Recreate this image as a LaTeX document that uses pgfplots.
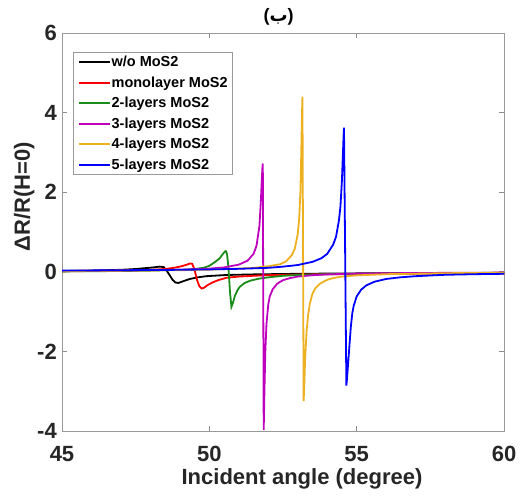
\documentclass[border=0pt]{standalone}
\usepackage{pgfplots}
\pgfplotsset{compat=1.18}
\usepackage{fontspec}
\setmainfont{Liberation Sans}
\newfontfamily\arabicfont[Script=Arabic]{DejaVu Sans}
\TeXXeTstate=1
\definecolor{mred}{rgb}{1,0,0}
\definecolor{mblue}{rgb}{0,0,1}
\definecolor{mgreen}{rgb}{0.10,0.55,0.10}
\definecolor{mmag}{rgb}{0.75,0.0,0.75}
\definecolor{myel}{rgb}{0.93,0.69,0.13}
\begin{document}
\begin{tikzpicture}
\begin{axis}[
  scale only axis, width=442pt, height=398pt,
  xmin=45, xmax=60, ymin=-4, ymax=6,
  xtick={45,50,55,60}, ytick={-4,-2,0,2,4,6},
  tick align=inside, major tick length=5pt,
  axis line style={black!40, line width=0.8pt},
  every tick/.style={black!45, line width=0.8pt},
  /pgf/number format/assume math mode=true,
  ticklabel style={font=\fontsize{22}{24}\selectfont\bfseries, text=black!85},
  yticklabel style={inner sep=0pt, anchor=east, xshift=-5pt},
  xticklabel style={inner sep=0pt, anchor=north, yshift=-15pt},
  xlabel={Incident angle (degree)},
  ylabel={ΔR/R(H=0)},
  label style={font=\fontsize{22}{24}\selectfont\bfseries, text=black!85, inner sep=0pt},
  xlabel style={at={(axis description cs:0.543,0)}, anchor=north, yshift=-37pt},
  ylabel style={at={(axis description cs:-0.062,0.588)}, anchor=south},
  title={\fontsize{18}{20}\selectfont\bfseries{(}{\arabicfont\bfseries\beginR ب\endR}{)}},
  title style={at={(axis description cs:0.49,1)}, anchor=south, yshift=2pt, inner sep=0pt},
  legend style={at={(rel axis cs:0.0256,0.953)}, anchor=north west, draw=black!40, line width=0.8pt,
    font=\fontsize{14.5}{16}\selectfont\bfseries, inner xsep=4pt, inner ysep=3pt, row sep=6.5pt,
    nodes={inner sep=1pt}, cells={anchor=west}},
  legend image code/.code={\draw[#1, line width=1.9pt] (0pt,0pt) -- (31pt,0pt);},
  every axis plot/.append style={line width=1.8pt},
]
\coordinate (bl) at (rel axis cs:0,0);
\coordinate (tr) at (rel axis cs:1,1);
\addplot[black] coordinates {
(45,0.02) (46,0.03) (46.5,0.04) (47,0.05) (47.5,0.07) (47.8,0.09) (48.1,0.11) (48.3,0.13) (48.45,0.12)
(48.55,0.03) (48.65,-0.08) (48.75,-0.2) (48.85,-0.27) (48.95,-0.28) (49.1,-0.24) (49.34,-0.18) (49.6,-0.14)
(49.9,-0.11) (50.58,-0.08) (51.5,-0.065) (53,-0.05) (55,-0.04) (57,-0.035) (60,-0.03)};
\addlegendentry{w/o MoS2\hspace{10pt}}
\addplot[mred] coordinates {
(45,0.01) (46,0.02) (47,0.03) (48,0.05) (48.5,0.07) (48.8,0.1) (49.0,0.13) (49.2,0.17) (49.35,0.21)
(49.42,0.2) (49.5,0.05) (49.58,-0.2) (49.66,-0.36) (49.74,-0.42) (49.82,-0.4) (49.95,-0.33) (50.1,-0.27)
(50.3,-0.21) (50.58,-0.15) (51.0,-0.12) (51.5,-0.1) (52,-0.085) (53,-0.07) (54,-0.06) (55,-0.055) (57,-0.045) (60,-0.04)};
\addlegendentry{monolayer MoS2\hspace{10pt}}
\addplot[mgreen] coordinates {
(45,0.01) (47,0.02) (48,0.03) (49,0.05) (49.5,0.07) (49.8,0.1) (50.0,0.15) (50.2,0.25) (50.35,0.34)
(50.45,0.44) (50.53,0.51) (50.56,0.52) (50.6,0.45) (50.65,0.1) (50.7,-0.5) (50.75,-0.88) (50.8,-0.78)
(50.87,-0.6) (50.95,-0.47) (51.03,-0.38) (51.2,-0.28) (51.4,-0.22) (51.7,-0.17) (52,-0.14) (52.5,-0.1)
(53,-0.08) (54,-0.06) (55,-0.05) (57,-0.035) (60,-0.025)};
\addlegendentry{2-layers MoS2}
\addplot[mmag] coordinates {
(45,0.02) (47,0.03) (48,0.04) (49,0.05) (50,0.08) (50.5,0.11) (51.0,0.18) (51.3,0.28) (51.5,0.45)
(51.6,0.65) (51.7,1.15) (51.75,1.8) (51.78,2.3) (51.8,2.6) (51.815,2.72) (51.845,-3.97) (51.855,-3.6)
(51.87,-3.0) (51.9,-2.0) (51.94,-1.3) (52.0,-0.82) (52.05,-0.62) (52.15,-0.44) (52.3,-0.3) (52.5,-0.21)
(52.73,-0.16) (53.0,-0.12) (53.5,-0.085) (54,-0.065) (55,-0.045) (57,-0.03) (60,-0.02)};
\addlegendentry{3-layers MoS2}
\addplot[myel] coordinates {
(45,0.02) (47,0.03) (49,0.04) (50,0.055) (51,0.08) (51.5,0.1) (52,0.14) (52.4,0.19) (52.6,0.26)
(52.8,0.42) (52.9,0.58) (53.0,0.95) (53.05,1.35) (53.09,2.0) (53.12,3.0) (53.145,4.0) (53.16,4.40)
(53.20,-3.25) (53.22,-2.9) (53.25,-2.2) (53.3,-1.5) (53.35,-1.1) (53.41,-0.8) (53.5,-0.55) (53.6,-0.41)
(53.75,-0.3) (54,-0.2) (54.19,-0.16) (54.5,-0.12) (55,-0.09) (56,-0.06) (58,-0.035) (60,-0.025)};
\addlegendentry{4-layers MoS2}
\addplot[mblue] coordinates {
(45,0.03) (47,0.04) (49,0.05) (50,0.06) (51,0.075) (52,0.1) (52.5,0.13) (53,0.17) (53.5,0.25)
(53.8,0.34) (54.0,0.45) (54.2,0.68) (54.3,0.88) (54.4,1.3) (54.45,1.65) (54.5,2.3) (54.53,2.9)
(54.555,3.4) (54.57,3.62) (54.65,-2.86) (54.67,-2.7) (54.7,-2.4) (54.73,-2.1) (54.76,-1.8) (54.8,-1.4)
(54.85,-1.05) (54.9,-0.85) (55.0,-0.62) (55.15,-0.45) (55.33,-0.34) (55.6,-0.25) (56.0,-0.18)
(56.46,-0.14) (57,-0.11) (58,-0.075) (59,-0.06) (60,-0.05)};
\addlegendentry{5-layers MoS2}
\end{axis}
\pgfresetboundingbox
\path[use as bounding box] ([xshift=-62pt,yshift=-64pt]bl) rectangle ([xshift=19pt,yshift=33pt]tr);
\end{tikzpicture}
\end{document}
